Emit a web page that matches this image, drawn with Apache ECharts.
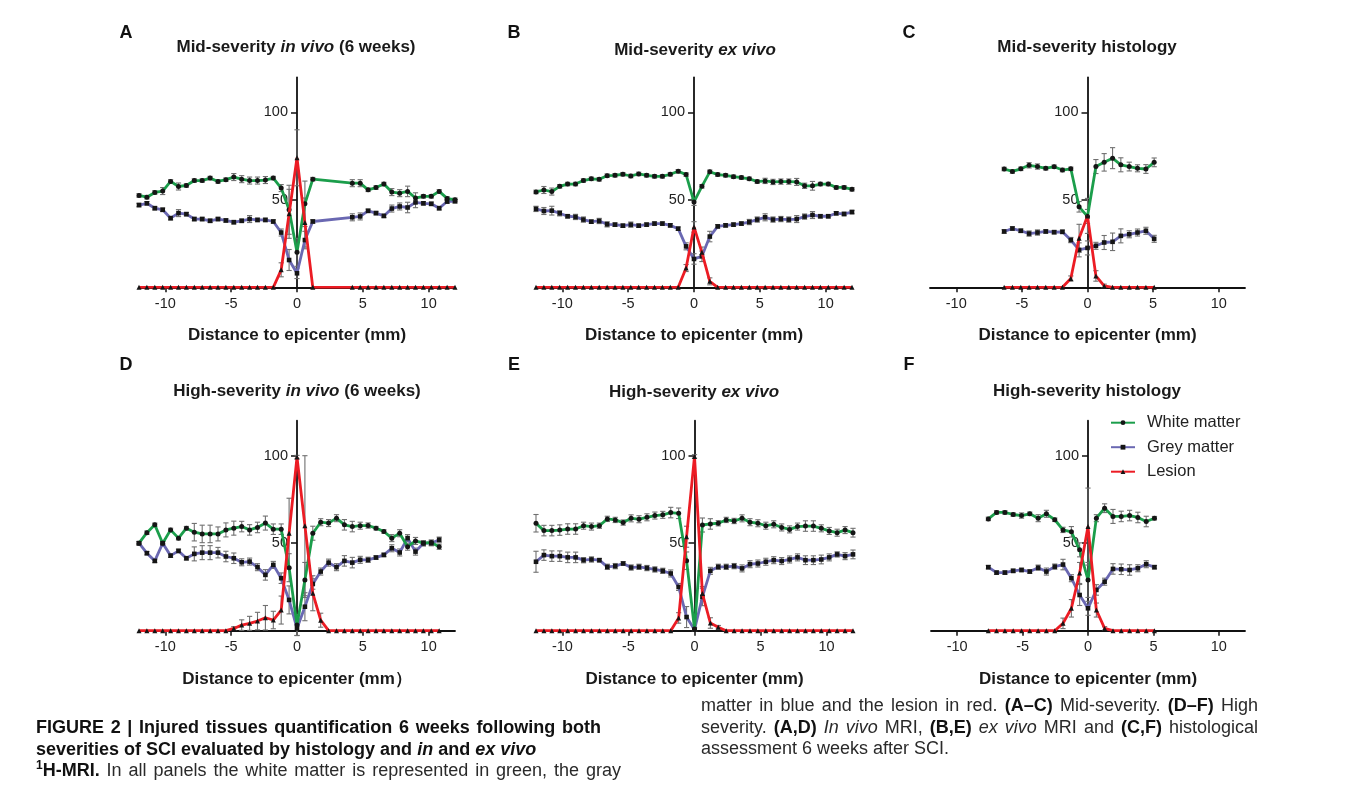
<!DOCTYPE html>
<html><head><meta charset="utf-8">
<script src="https://cdn.jsdelivr.net/npm/echarts@6/dist/echarts.min.js"></script>
<style>
html,body{margin:0;padding:0;background:#fff;}
#chart{position:absolute;left:0;top:0;width:1357px;height:794px;}
.cap{position:absolute;font-family:'Liberation Sans',Arial,Helvetica,sans-serif;font-size:18px;line-height:21.5px;color:#2a2a2a;}
.cap div{white-space:nowrap;}
.j{text-align:justify;text-align-last:justify;}
.b{font-weight:bold;color:#111;}
sup{font-size:12px;line-height:0;vertical-align:7px;}
</style></head>
<body>
<div id="chart"></div>
<div class="cap" style="left:36px;top:717px;width:565px">
 <div class="j b">FIGURE 2 | Injured tissues quantification 6 weeks following both</div>
 <div class="b">severities of SCI evaluated by histology and <i>in</i> and <i>ex vivo</i></div>
 <div class="j" style="width:585px"><b class="b"><sup>1</sup>H-MRI.</b> In all panels the white matter is represented in green, the gray</div>
</div>
<div class="cap" style="left:701px;top:695px;width:557px">
 <div class="j">matter in blue and the lesion in red. <b class="b">(A–C)</b> Mid-severity. <b class="b">(D–F)</b> High</div>
 <div class="j">severity. <b class="b">(A,D)</b> <i>In vivo</i> MRI, <b class="b">(B,E)</b> <i>ex vivo</i> MRI and <b class="b">(C,F)</b> histological</div>
 <div>assessment 6 weeks after SCI.</div>
</div>
<script>
// ---------------- DATA ----------------
const SERIES_NAMES = ['White matter', 'Grey matter', 'Lesion'];
const PANEL_LETTERS = ['A', 'B', 'C', 'D', 'E', 'F'];
const PANEL_TITLES = [
  '{b|Mid-severity }{bi|in vivo}{b| (6 weeks)}',
  '{b|Mid-severity }{bi|ex vivo}',
  '{b|Mid-severity histology}',
  '{b|High-severity }{bi|in vivo}{b| (6 weeks)}',
  '{b|High-severity }{bi|ex vivo}',
  '{b|High-severity histology}'
];
const X_NAMES = [
  'Distance to epicenter (mm)', 'Distance to epicenter (mm)', 'Distance to epicenter (mm)',
  'Distance to epicenter (mm）', 'Distance to epicenter (mm)', 'Distance to epicenter (mm)'
];
const X_TICKS = [-10, -5, 0, 5, 10];
const Y_TICKS = [50, 100];

// Panel A: mid-severity in vivo
const X_A = [-12,-11.4,-10.8,-10.2,-9.6,-9,-8.4,-7.8,-7.2,-6.6,-6,-5.4,-4.8,-4.2,-3.6,-3,-2.4,-1.8,-1.2,-0.6,0,0.6,1.2,4.2,4.8,5.4,6,6.6,7.2,7.8,8.4,9,9.6,10.2,10.8,11.4,12];
const WM_A = [52.5,51.5,54.2,55,60.5,57.6,58.2,61,61,62.4,60.5,61.5,63,61.8,61,61,61.3,62.4,56.7,44.3,20,47.7,61.8,59.5,59.5,55.7,57,59,54.4,53.8,54.8,51,52,52,54.8,50.8,50];
const WM_A_ERR = [1,1,1,2,1,2,1,1,1,1,1,1,2,2,2,2,2,1,2,14,8,13,1,2,2,1,1,1,2,2,3,3,1,1,1,1,1];
const GM_A = [47,48,45.2,44.3,39.5,42.4,41.8,39,39,38,39,38.2,37.2,38,39,38.5,38.5,37.6,31.3,15.6,8,27,37.6,40,40.5,43.7,42.4,40.8,45,46.2,45.6,48.5,48,47.7,45.2,49,49.2];
const GM_A_ERR = [1,1,1,1,1,2,1,1,1,1,1,1,1,1,2,1,1,1,2,6,3,5,1,2,2,1,1,1,2,2,3,3,1,1,1,1,1];
const LES_A = [0,0,0,0,0,0,0,0,0,0,0,0,0,0,0,0,0,0,10,42,74,37,0,0,0,0,0,0,0,0,0,0,0,0,0,0,0];
const LES_A_ERR = [0,0,0,0,0,0,0,0,0,0,0,0,0,0,0,0,0,0,4,14,16,14,0,0,0,0,0,0,0,0,0,0,0,0,0,0,0];

// Panel B: mid-severity ex vivo
const X_B = [-12,-11.4,-10.8,-10.2,-9.6,-9,-8.4,-7.8,-7.2,-6.6,-6,-5.4,-4.8,-4.2,-3.6,-3,-2.4,-1.8,-1.2,-0.6,0,0.6,1.2,1.8,2.4,3,3.6,4.2,4.8,5.4,6,6.6,7.2,7.8,8.4,9,9.6,10.2,10.8,11.4,12];
const WM_B = [54.5,55.6,54.7,57.7,59,59,61,62,61.7,63.8,64,64.6,63.6,64.8,64,63.4,63.4,64.6,66.3,64.4,48.8,57.7,66,64.4,64,63.2,62.7,62,60.4,60.8,60.2,60.4,60.4,60.2,58,58,59,59,57.1,57.1,56];
const WM_B_ERR = [1,2,2,1,1,1,1,1,1,1,1,1,1,1,1,1,1,1,1,1,2,1,1,1,1,1,1,1,1,1.5,1.5,1.5,1.5,2,1.5,2.5,1,1,1,1,1];
const GM_B = [44.8,43.6,43.8,42.3,40.6,40.2,38.7,37.5,37.9,36,35.8,35.2,35.8,35.2,35.8,36.4,36.4,35.4,33.5,23.4,16.2,17.7,29,34.8,35.4,35.8,36.4,37.3,38.7,40,38.7,39,38.7,39,40.4,41.3,40.6,40.6,42.3,41.9,43];
const GM_B_ERR = [1.5,2,2.5,1.5,1,1.5,1.5,1,1.5,1.5,1,1,1.5,1,1,1,1,1,1,2,3,3,3,1,1,1,1,1.5,1.5,2,1.5,1.5,1.5,2,1.5,2,1,1,1,1,1];
const LES_B = [0,0,0,0,0,0,0,0,0,0,0,0,0,0,0,0,0,0,0,11,34.5,20,3.4,0,0,0,0,0,0,0,0,0,0,0,0,0,0,0,0,0,0];
const LES_B_ERR = [0,0,0,0,0,0,0,0,0,0,0,0,0,0,0,0,0,0,0,2,3,3,2,0,0,0,0,0,0,0,0,0,0,0,0,0,0,0,0,0,0];

// Panel C: mid-severity histology
const X_C = [-6.35,-5.72,-5.08,-4.45,-3.81,-3.18,-2.54,-1.91,-1.27,-0.64,0,0.64,1.27,1.91,2.54,3.18,3.81,4.45,5.08];
const WM_C = [67.6,66.2,67.7,69.7,69,68,68.9,67,67.7,46,40.5,69,71.4,73.8,70,69,68,67.6,71.4];
const WM_C_ERR = [1,1,1,1.5,1.5,1,1,1,1,3,4,4,5,6,4,2.5,2,2.5,2.5];
const GM_C = [31.9,33.6,32.3,30.7,31.3,31.9,31.5,31.7,27,21.4,22.5,23.7,25.6,26,29.4,30.3,31.3,32.3,27.7];
const GM_C_ERR = [1,1,1,1.5,1.5,1,1,1,1.5,4,4,2,4,5,4,2,2,2,2];
const LES_C = [0,0,0,0,0,0,0,0,5,28,40.8,6.5,0.8,0,0,0,0,0,0];
const LES_C_ERR = [0,0,0,0,0,0,0,0,1.5,8,10,3,1,0,0,0,0,0,0];

// Panel D: high-severity in vivo
const X_D = [-12,-11.4,-10.8,-10.2,-9.6,-9,-8.4,-7.8,-7.2,-6.6,-6,-5.4,-4.8,-4.2,-3.6,-3,-2.4,-1.8,-1.2,-0.6,0,0.6,1.2,1.8,2.4,3,3.6,4.2,4.8,5.4,6,6.6,7.2,7.8,8.4,9,9.6,10.2,10.8];
const WM_D = [50,56,60.5,50,57.6,52.9,58.6,56.3,55.3,55.3,55.3,57.6,58.6,59.5,57.6,59,61.5,58,58,36,3.2,29,55.7,62,61.5,64.3,60.5,59.5,60,60.1,58.6,56.7,52.9,55.7,48,51.3,50,50.4,48];
const WM_D_ERR = [1,1,1,1,1,1,1,5,5,5,4,4,4,3,3,3,4,3,3,8,6,10,4,2,2,2,3,3,2,1.5,1,1,2,2,2,2,1.5,1.5,1.5];
const GM_D = [50,44.3,39.9,50,42.9,45.6,41.4,43.9,44.6,44.6,44.6,42.4,41.4,39.1,39.5,36.3,31.9,37.6,30,17.6,1.3,13.7,26.7,33.8,38.9,36.3,39.9,38.9,40.5,40.5,41.8,43.3,47.1,44.7,52.9,45.2,50,50,52];
const GM_D_ERR = [1,1,1,1,1,1,1,4,4,4,3,3,3,2,2,2,3,2,3,8,4,8,3,2,2,2,3,3,2,1.5,1,1,2,2,2,2,1.5,1.5,1.5];
const LES_D = [0,0,0,0,0,0,0,0,0,0,0,0,1.3,3.2,4.2,5.5,7.4,6.1,11.8,55.7,99.2,60,21.4,6,0,0,0,0,0,0,0,0,0,0,0,0,0,0,0];
const LES_D_ERR = [0,0,0,0,0,0,0,0,0,0,0,0,1,3,4,5,7,5,8,20,1,40,10,4,0,0,0,0,0,0,0,0,0,0,0,0,0,0,0];

// Panel E: high-severity ex vivo
const X_E = [-12,-11.4,-10.8,-10.2,-9.6,-9,-8.4,-7.8,-7.2,-6.6,-6,-5.4,-4.8,-4.2,-3.6,-3,-2.4,-1.8,-1.2,-0.6,0,0.6,1.2,1.8,2.4,3,3.6,4.2,4.8,5.4,6,6.6,7.2,7.8,8.4,9,9.6,10.2,10.8,11.4,12];
const WM_E = [61.4,57.2,57.2,57.5,58.1,58.1,60,59.5,60,63.9,63.3,61.8,64.2,63.7,64.8,65.8,66.2,67.5,67.1,40,1,60.4,61,61.4,63.3,62.7,64.2,62,61.4,60,60.8,59,57.9,59.5,59.8,59.8,58.5,57,56,57.5,56];
const WM_E_ERR = [5,3,3,3,3,3,2,2,1.5,1.5,1.5,1.5,2,2,2,2,2,3,3,5,1,4,3,1.5,1.5,1.5,2,2,2,2,2,2,2,2,3,3,2,2,2,2,2.5];
const GM_E = [39.4,43.2,42.6,42.6,41.9,41.9,40.3,40.7,40.3,36.5,36.9,38.4,36.1,36.5,35.8,35,34.2,32.7,25,7.8,0.6,19.3,34.2,36.5,36.5,36.9,35.6,38,38.4,39.4,40.3,39.8,40.7,41.9,40.3,40.3,40.7,41.9,43.6,42.6,43.6];
const GM_E_ERR = [6,3,3,3,3,3,1.5,1.5,1,1.5,1.5,1,1.5,1.5,1.5,1.5,1.5,2,2,6,1,5,2,1.5,1.5,1.5,2,2,2,2,2,2,2,2,2.5,2.5,2.5,2,1.5,2,2.5];
const LES_E = [0,0,0,0,0,0,0,0,0,0,0,0,0,0,0,0,0,0,7.3,53.7,99.6,21.2,4.4,2,0,0,0,0,0,0,0,0,0,0,0,0,0,0,0,0,0];
const LES_E_ERR = [0,0,0,0,0,0,0,0,0,0,0,0,0,0,0,0,0,0,3,6,1,4,3,1,0,0,0,0,0,0,0,0,0,0,0,0,0,0,0,0,0];

// Panel F: high-severity histology
const X_F = [-7.62,-6.99,-6.35,-5.72,-5.08,-4.45,-3.81,-3.18,-2.54,-1.91,-1.27,-0.64,0,0.64,1.27,1.91,2.54,3.18,3.81,4.45,5.08];
const WM_F = [63.9,67.6,67.6,66.4,65.8,66.8,64.3,66.8,63.4,57.6,56.5,46.2,29,64.3,70,65.3,65.3,65.8,64.7,62.4,64.3];
const WM_F_ERR = [1,1,1,1,1.5,1,2,2,1,1.5,3,4,10,2,2.5,4,3,3,3,3,1];
const GM_F = [36.3,33.2,33.2,34.2,34.7,33.8,36,33.8,36.6,37.8,30,20.4,12.8,23.3,28,35.3,35.1,34.7,35.7,38,36.3];
const GM_F_ERR = [1,1,1,1,1,1,1.5,2,1.5,3,2,6,4,3,2,3,3,3,2,2,1];
const LES_F = [0,0,0,0,0,0,0,0,0,4.2,12.8,33,59.5,11.8,1.3,0,0,0,0,0,0];
const LES_F_ERR = [0,0,0,0,0,0,0,0,0,3,5,6,22,4,1,0,0,0,0,0,0];

// ---------------- CHART ----------------
const FONT = "'Liberation Sans', Arial, Helvetica, sans-serif";
const GREEN = '#1b9e4b', BLUE = '#6a68b2', RED = '#ec1c24', MARK = '#151515', AXIS = '#111', ERR = '#707070';

const panels = [
  {x: X_A, wm: WM_A, wmE: WM_A_ERR, gm: GM_A, gmE: GM_A_ERR, les: LES_A, lesE: LES_A_ERR},
  {x: X_B, wm: WM_B, wmE: WM_B_ERR, gm: GM_B, gmE: GM_B_ERR, les: LES_B, lesE: LES_B_ERR},
  {x: X_C, wm: WM_C, wmE: WM_C_ERR, gm: GM_C, gmE: GM_C_ERR, les: LES_C, lesE: LES_C_ERR},
  {x: X_D, wm: WM_D, wmE: WM_D_ERR, gm: GM_D, gmE: GM_D_ERR, les: LES_D, lesE: LES_D_ERR},
  {x: X_E, wm: WM_E, wmE: WM_E_ERR, gm: GM_E, gmE: GM_E_ERR, les: LES_E, lesE: LES_E_ERR},
  {x: X_F, wm: WM_F, wmE: WM_F_ERR, gm: GM_F, gmE: GM_F_ERR, les: LES_F, lesE: LES_F_ERR}
];

const gridBoxes = [
  {left: 139, top: 77.3, width: 316, height: 210},
  {left: 536, top: 77.3, width: 316, height: 210},
  {left: 930, top: 77.3, width: 315, height: 210},
  {left: 139, top: 420.7, width: 316, height: 210},
  {left: 536, top: 420.7, width: 317, height: 210},
  {left: 931, top: 420.7, width: 314, height: 210}
];
const titlePos = [[296, 47], [695, 50], [1087, 47], [297, 391], [694, 392], [1087, 391]];
const letterPos = [[126, 33.5], [514, 33.5], [909, 33.5], [126, 365], [514, 365], [909, 365]];

function renderErr(params, api) {
  const x = api.value(0), lo = api.value(1), hi = api.value(2);
  const a = api.coord([x, hi]), b = api.coord([x, lo]);
  const w = 2.6;
  const st = {stroke: ERR, lineWidth: 1.1};
  return {type: 'group', children: [
    {type: 'line', shape: {x1: a[0], y1: a[1], x2: b[0], y2: b[1]}, style: st},
    {type: 'line', shape: {x1: a[0] - w, y1: a[1], x2: a[0] + w, y2: a[1]}, style: st},
    {type: 'line', shape: {x1: b[0] - w, y1: b[1], x2: b[0] + w, y2: b[1]}, style: st}
  ]};
}

const grid = [], xAxis = [], yAxis = [], series = [], graphic = [];
panels.forEach((p, i) => {
  const g = gridBoxes[i];
  grid.push(Object.assign({outerBoundsMode: 'none', containLabel: false}, g));
  xAxis.push({
    gridIndex: i, type: 'value', min: -12, max: 12,
    splitLine: {show: false},
    axisLine: {show: true, onZero: true, lineStyle: {color: AXIS, width: 1.8}},
    axisTick: {show: true, customValues: X_TICKS, length: 5, lineStyle: {color: AXIS, width: 1.5}},
    axisLabel: {customValues: X_TICKS, margin: 9, fontSize: 14.5, color: '#222', fontFamily: FONT},
    name: X_NAMES[i], nameLocation: 'middle', nameGap: 40,
    nameTextStyle: {fontWeight: 'bold', fontSize: 17, color: '#1a1a1a', fontFamily: FONT}
  });
  // the y axis crosses the x axis at distance 0 (the middle of the -12..12 range)
  yAxis.push({
    gridIndex: i, type: 'value', min: 0, max: 120, interval: 50,
    position: 'left', offset: -g.width / 2,
    splitLine: {show: false},
    axisLine: {show: true, onZero: false, lineStyle: {color: AXIS, width: 1.8}},
    axisTick: {show: true, customValues: Y_TICKS, length: 6, lineStyle: {color: AXIS, width: 1.5}},
    axisLabel: {customValues: Y_TICKS, margin: 9, fontSize: 14.5, color: '#222', fontFamily: FONT}
  });
  const mk = arr => p.x.map((x, j) => [x, arr[j]]);
  const eb = [];
  [[p.wm, p.wmE], [p.gm, p.gmE], [p.les, p.lesE]].forEach(([v, e]) => {
    p.x.forEach((x, j) => { if (e[j] > 0) eb.push([x, v[j] - e[j], v[j] + e[j]]); });
  });
  series.push({type: 'custom', xAxisIndex: i, yAxisIndex: i, data: eb, renderItem: renderErr,
    encode: {x: 0, y: [1, 2]}, z: 2, silent: true, animation: false});
  series.push({type: 'line', name: SERIES_NAMES[1], xAxisIndex: i, yAxisIndex: i, data: mk(p.gm),
    symbol: 'rect', symbolSize: 4.6, showSymbol: true, lineStyle: {color: BLUE, width: 2.8},
    itemStyle: {color: MARK}, z: 3, animation: false});
  series.push({type: 'line', name: SERIES_NAMES[0], xAxisIndex: i, yAxisIndex: i, data: mk(p.wm),
    symbol: 'circle', symbolSize: 5, showSymbol: true, lineStyle: {color: GREEN, width: 2.8},
    itemStyle: {color: MARK}, z: 3, animation: false});
  series.push({type: 'line', name: SERIES_NAMES[2], xAxisIndex: i, yAxisIndex: i, data: mk(p.les),
    symbol: 'triangle', symbolSize: 5, showSymbol: true, lineStyle: {color: RED, width: 2.8},
    itemStyle: {color: MARK}, z: 4, animation: false});

  graphic.push({type: 'text', x: titlePos[i][0], y: titlePos[i][1], silent: true,
    style: {text: PANEL_TITLES[i], align: 'center', verticalAlign: 'middle',
      rich: {
        b: {fontWeight: 'bold', fontSize: 17, fontFamily: FONT, fill: '#1a1a1a'},
        bi: {fontWeight: 'bold', fontStyle: 'italic', fontSize: 17, fontFamily: FONT, fill: '#1a1a1a'}
      }}});
  graphic.push({type: 'text', x: letterPos[i][0], y: letterPos[i][1], silent: true,
    style: {text: PANEL_LETTERS[i], align: 'center', verticalAlign: 'middle',
      font: 'bold 18px ' + FONT, fill: '#111'}});
});

const chart = echarts.init(document.getElementById('chart'), null, {renderer: 'canvas'});
chart.setOption({
  animation: false,
  backgroundColor: '#fff',
  grid, xAxis, yAxis, series, graphic,
  legend: {
    data: SERIES_NAMES, orient: 'vertical', left: 1110, top: 413.7, padding: 0,
    itemWidth: 24, itemHeight: 6, itemGap: 6.5, selectedMode: false,
    textStyle: {fontSize: 16.5, color: '#222', fontFamily: FONT, lineHeight: 18, padding: [0, 0, 0, 7]}
  }
});
</script>
</body></html>
